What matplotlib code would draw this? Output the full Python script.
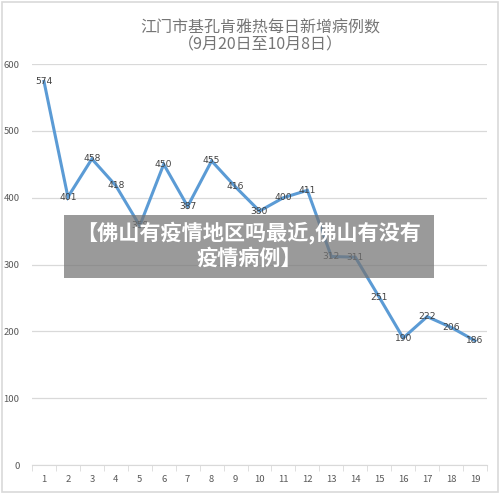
import matplotlib
matplotlib.use("Agg")
import matplotlib.pyplot as plt
from matplotlib.patches import Rectangle
import numpy as np

plt.rcParams['font.family'] = ['Noto Sans CJK SC', 'DejaVu Sans']

days = list(range(1, 20))
cases = [574, 401, 458, 418, 358, 450, 387, 455, 416, 380, 400, 411, 312, 311, 251, 190, 222, 206, 186]
yticks = [0, 100, 200, 300, 400, 500, 600]
title_lines = ["江门市基孔肯雅热每日新增病例数", "（9月20日至10月8日）"]
overlay_lines = ["【佛山有疫情地区吗最近,佛山有没有", "疫情病例】"]

fig = plt.figure(figsize=(5.0, 4.94), dpi=100)
fig.patch.set_facecolor('white')
# outer frame
fig.patches.append(Rectangle((0.004, 0.004), 0.992, 0.992, transform=fig.transFigure,
                             fill=False, edgecolor='#d9d9d9', linewidth=1.2))

ax = fig.add_axes([0.064, 0.0587, 0.91, 0.8117])
ax.set_xlim(0.5, 19.5)
ax.set_ylim(0, 600)
ax.set_yticks(yticks)
ax.set_xticks(days)
ax.set_xticks(np.arange(0.5, 20.0, 1.0), minor=True)
ax.grid(axis='y', color='#d9d9d9', linewidth=0.9)
ax.set_axisbelow(True)
for s in ['top', 'right', 'left']:
    ax.spines[s].set_visible(False)
ax.spines['bottom'].set_color('#d9d9d9')
ax.tick_params(axis='x', which='major', length=0, pad=7, labelsize=6.8, labelcolor='#595959')
ax.tick_params(axis='x', which='minor', length=4, color='#d9d9d9', direction='out')
ax.tick_params(axis='y', length=0, pad=9, labelsize=6.8, labelcolor='#595959')

ax.plot(days, cases, color='#5b9bd5', linewidth=2.2, solid_joinstyle='miter', zorder=3)
for d, c in zip(days, cases):
    ax.text(d, c, str(c), ha='center', va='center', fontsize=6.6, color='#404040', zorder=4,
            family=['DejaVu Sans'])

fig.text(0.52, 0.943, title_lines[0], ha='center', va='center', fontsize=11.5, color='#757575')
fig.text(0.52, 0.908, title_lines[1], ha='center', va='center', fontsize=11.5, color='#757575')

# overlay banner
fig.patches.append(Rectangle((64/500, 1-278/494), (434-64)/500, (278-215)/494,
                             transform=fig.transFigure, facecolor='#747474', alpha=0.72,
                             edgecolor='none', zorder=10))
fig.text(0.498, 1-233/494, overlay_lines[0], ha='center', va='center', fontsize=15.2,
         color='white', fontweight='bold', zorder=11)
fig.text(0.498, 1-258/494, overlay_lines[1], ha='center', va='center', fontsize=15.2,
         color='white', fontweight='bold', zorder=11)

fig.savefig('out.png', dpi=100)
